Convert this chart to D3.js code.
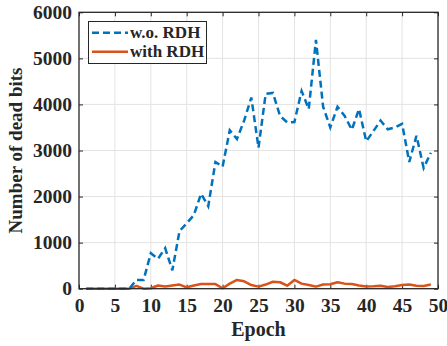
<!DOCTYPE html>
<html>
<head>
<meta charset="utf-8">
<script src="https://cdn.jsdelivr.net/npm/d3@7"></script>
<style>
  body { margin: 0; background: #fff; }
  text { font-family: "Liberation Serif", "Times New Roman", serif; font-weight: bold; fill: #262626; }
</style>
</head>
<body>
<svg id="chart" width="447" height="346"></svg>
<script>
// data
var epochs = d3.range(1, 50);
var withoutRDH = [0, 0, 0, 0, 0, 0, 0, 190, 190, 770, 650, 880, 400, 1250, 1420, 1600, 2060, 1790, 2750, 2650,
  3440, 3250, 3650, 4150, 3060, 4230, 4250, 3750, 3610, 3620, 4290, 3900, 5400, 3950, 3500, 3950, 3750, 3450, 3900, 3200,
  3420, 3650, 3460, 3500, 3580, 2750, 3320, 2620, 2950];
var withRDH = [0, 0, 0, 0, 0, 0, 0, 60, 0, 10, 70, 50, 70, 90, 30, 70, 100, 100, 100, 10,
  110, 190, 160, 80, 45, 90, 150, 140, 65, 190, 110, 80, 45, 90, 95, 140, 110, 100, 70, 50,
  55, 65, 35, 55, 80, 90, 65, 60, 90];
var xTicks = [0, 5, 10, 15, 20, 25, 30, 35, 40, 45, 50];
var yTicks = [0, 1000, 2000, 3000, 4000, 5000, 6000];
var seriesNames = ["w.o. RDH", "with RDH"];

var colors = { blue: "#0072BD", orange: "#D95319", axis: "#262626", grid: "#e3e3e3" };

// plot box (window.top is reserved, so use a box object)
var box = { left: 79, right: 438, top: 12.3, bottom: 288.7 };

var x = d3.scaleLinear().domain([0, 50]).range([box.left, box.right]);
var y = d3.scaleLinear().domain([0, 6000]).range([box.bottom, box.top]);

var svg = d3.select("#chart");

// grid lines
svg.append("g").selectAll("line").data(xTicks.slice(1, -1)).join("line")
  .attr("x1", d => x(d)).attr("x2", d => x(d))
  .attr("y1", box.top).attr("y2", box.bottom)
  .attr("stroke", colors.grid).attr("stroke-width", 1);
svg.append("g").selectAll("line").data(yTicks.slice(1, -1)).join("line")
  .attr("y1", d => y(d)).attr("y2", d => y(d))
  .attr("x1", box.left).attr("x2", box.right)
  .attr("stroke", colors.grid).attr("stroke-width", 1);

// axes with inward ticks, on all four sides (box on)
var tickLen = 4;
var fmt = d3.format("d");
var xAxisB = svg.append("g").attr("transform", "translate(0," + box.bottom + ")")
  .call(d3.axisBottom(x).tickValues(xTicks).tickFormat(fmt).tickSizeInner(-tickLen).tickSizeOuter(0).tickPadding(9));
var xAxisT = svg.append("g").attr("transform", "translate(0," + box.top + ")")
  .call(d3.axisTop(x).tickValues(xTicks).tickSizeInner(-tickLen).tickSizeOuter(0).tickFormat(""));
var yAxisL = svg.append("g").attr("transform", "translate(" + box.left + ",0)")
  .call(d3.axisLeft(y).tickValues(yTicks).tickFormat(fmt).tickSizeInner(-tickLen).tickSizeOuter(0).tickPadding(7));
var yAxisR = svg.append("g").attr("transform", "translate(" + box.right + ",0)")
  .call(d3.axisRight(y).tickValues(yTicks).tickSizeInner(-tickLen).tickSizeOuter(0).tickFormat(""));

[xAxisB, xAxisT, yAxisL, yAxisR].forEach(function (g) {
  g.select(".domain").remove();
  g.selectAll(".tick line").attr("stroke", colors.axis).attr("stroke-width", 1);
  g.selectAll("text").attr("font-size", 19.5).attr("fill", colors.axis)
    .style("font-family", "'Liberation Serif', serif").style("font-weight", "bold");
});

// line series
var line = d3.line().x((d, i) => x(epochs[i])).y(d => y(d));

svg.append("path").datum(withRDH)
  .attr("fill", "none").attr("stroke", colors.orange).attr("stroke-width", 2.5)
  .attr("stroke-linejoin", "round").attr("d", line);

svg.append("path").datum(withoutRDH)
  .attr("fill", "none").attr("stroke", colors.blue).attr("stroke-width", 2.5)
  .attr("stroke-dasharray", "7,4").attr("d", line);

// frame
svg.append("rect")
  .attr("x", box.left).attr("y", box.top)
  .attr("width", box.right - box.left).attr("height", box.bottom - box.top)
  .attr("fill", "none").attr("stroke", colors.axis).attr("stroke-width", 1.3);

// axis labels
svg.append("text").attr("x", (box.left + box.right) / 2).attr("y", 336)
  .attr("text-anchor", "middle").attr("font-size", 20).text("Epoch");
svg.append("text")
  .attr("transform", "translate(22," + (box.top + box.bottom) / 2 + ") rotate(-90)")
  .attr("text-anchor", "middle").attr("font-size", 19).text("Number of dead bits");

// legend
var legend = svg.append("g");
legend.append("rect")
  .attr("x", 88.5).attr("y", 21.5).attr("width", 118).attr("height", 42)
  .attr("fill", "#fff").attr("stroke", colors.axis).attr("stroke-width", 1);
var legendItems = [
  { name: seriesNames[0], color: colors.blue, dash: "7,4" },
  { name: seriesNames[1], color: colors.orange, dash: null }
];
legend.selectAll("g.item").data(legendItems).join("g")
  .attr("class", "item")
  .attr("transform", (d, i) => "translate(0," + (32.7 + i * 19) + ")")
  .each(function (d) {
    var g = d3.select(this);
    g.append("line").attr("x1", 92).attr("x2", 128).attr("y1", 0).attr("y2", 0)
      .attr("stroke", d.color).attr("stroke-width", 2.5)
      .attr("stroke-dasharray", d.dash);
    g.append("text").attr("x", 130).attr("y", 5.5).attr("font-size", 17).text(d.name);
  });
</script>
</body>
</html>
